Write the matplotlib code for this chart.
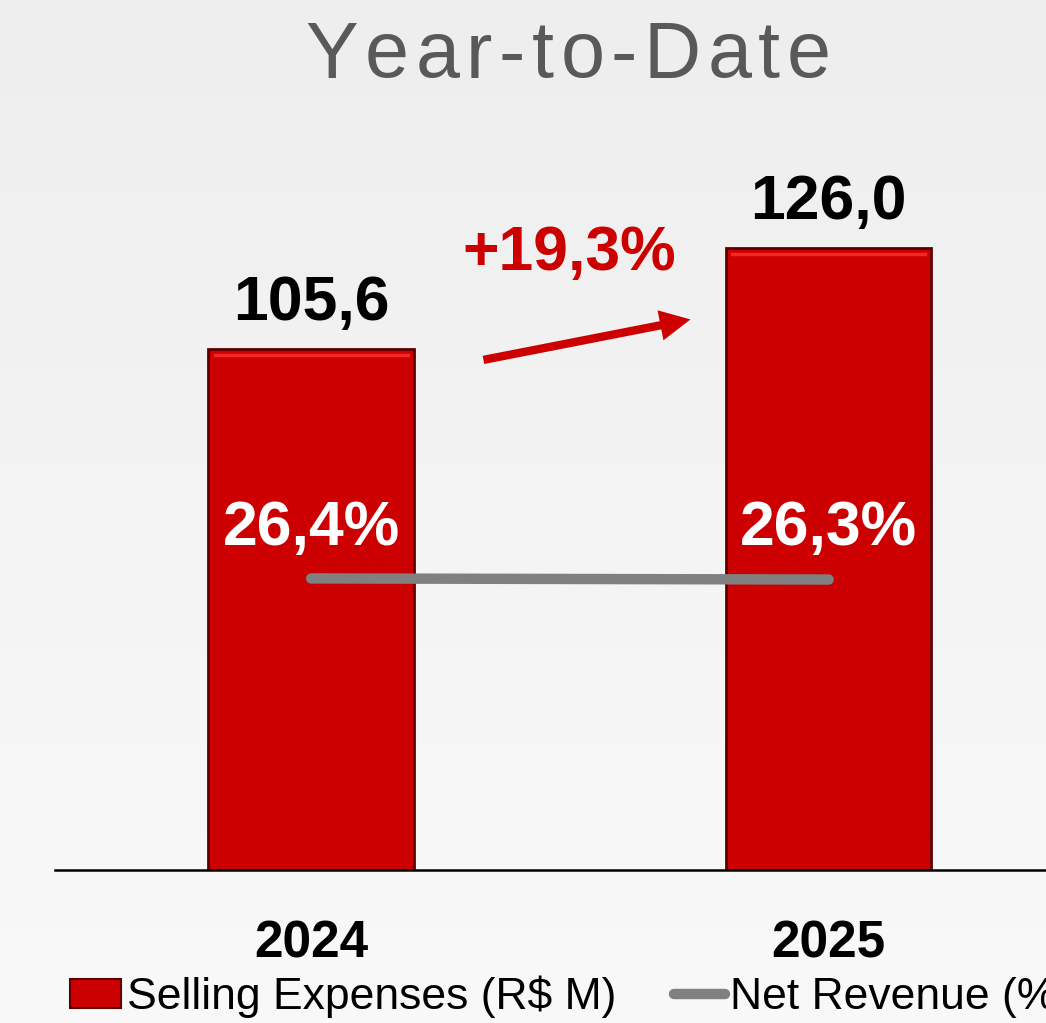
import matplotlib.pyplot as plt
import numpy as np
from matplotlib.colors import LinearSegmentedColormap
from matplotlib.lines import Line2D
from matplotlib.patches import Patch

# data
years = ["2024", "2025"]
selling_expenses = [105.6, 126.0]
net_revenue_pct = [26.4, 26.3]
expense_labels = ["105,6", "126,0"]
pct_labels = ["26,4%", "26,3%"]
growth_label = "+19,3%"

RED = "#CC0000"
GRAY = "#808080"
W, H = 1046, 1023

fig = plt.figure(figsize=(W / 100, H / 100), dpi=100)

# soft gradient background
bg = fig.add_axes([0, 0, 1, 1], zorder=-10)
grad = np.linspace(0, 1, 256).reshape(-1, 1)
bg.imshow(grad, aspect="auto", cmap=LinearSegmentedColormap.from_list("bg", ["#eeeeee", "#f9f9f9"]),
          extent=[0, 1, 0, 1], origin="upper")
bg.axis("off")

# main axes: baseline at y=870px, top at y=130px
ax_left = 55 / W
ax_bottom = 1 - 870 / H
ax_height = (870 - 130) / H
ax = fig.add_axes([ax_left, ax_bottom, 1 - ax_left, ax_height])
ax.patch.set_alpha(0)

x = np.arange(len(years))
bars = ax.bar(x, selling_expenses, width=0.397, color=RED, edgecolor="#5a0000", linewidth=2, zorder=2)
# light bevel along the top of each bar
for b in bars:
    ax.plot([b.get_x() + 0.012, b.get_x() + b.get_width() - 0.012],
            [b.get_height() - 1.2] * 2, color="#ff3030", linewidth=2.5, alpha=0.8, zorder=2.5)
ax.set_xlim(-0.495, 1.42)
ax.set_ylim(0, 150)
for s in ["top", "right", "left"]:
    ax.spines[s].set_visible(False)
ax.spines["bottom"].set_linewidth(1.8)
ax.set_yticks([])
ax.set_xticks([])

for xi, v, lab in zip(x, selling_expenses, expense_labels):
    ax.text(xi, v + 3.3, lab, ha="center", va="bottom", fontsize=45,
            fontweight="bold", family="Liberation Sans", color="black")

# net revenue line on secondary axis
ax2 = ax.twinx()
ax2.set_ylim(0, 67)
ax2.axis("off")
ax2.plot(x, net_revenue_pct, color=GRAY, linewidth=7.5, solid_capstyle="round", zorder=3)
for xi, lab in zip(x, pct_labels):
    ax.text(xi, 69.3, lab, ha="center", va="center", fontsize=45, fontweight="bold",
            family="Liberation Sans", color="white", zorder=4)

# growth arrow
ax.annotate("", xy=(0.733, 111.6), xytext=(0.333, 103.4),
            arrowprops=dict(arrowstyle="simple,head_length=1.1,head_width=1.1,tail_width=0.3",
                            mutation_scale=20, facecolor=RED, edgecolor="none",
                            shrinkA=0, shrinkB=0))
ax.text(0.499, 125.0, growth_label, ha="center", va="center", fontsize=45,
        fontweight="bold", family="Liberation Sans", color=RED)

# year labels
for xi, yr in zip(x, years):
    ax.text(xi, -15, yr, ha="center", va="center", fontsize=37, fontweight="bold",
            family="Liberation Sans", color="black")

# title with letter spacing
title = "Year-to-Date"
fig.canvas.draw()
renderer = fig.canvas.get_renderer()
pieces = []
for ch in title:
    t = fig.text(0, 1 - 57 / H, ch, fontsize=57, family="Liberation Sans", color="#595959",
                 va="center", ha="left")
    pieces.append(t)
widths = [p.get_window_extent(renderer).width for p in pieces]
spacing = 6.5
total = sum(widths) + spacing * (len(widths) - 1)
xpos = 568 - total / 2
for p, w in zip(pieces, widths):
    p.set_x(xpos / W)
    xpos += w + spacing

# legend
handles = [Patch(facecolor=RED, edgecolor="#5a0000", linewidth=1.5),
           Line2D([0], [0], color=GRAY, linewidth=7.5, solid_capstyle="round")]
fig.legend(handles, ["Selling Expenses (R$ M)", "Net Revenue (%)"], loc="center left",
           bbox_to_anchor=(48 / W, 1 - 997 / H), ncol=2, frameon=False,
           prop={"family": "Liberation Sans", "size": 32}, handlelength=1.15,
           handleheight=0.62, handletextpad=0.12, columnspacing=1.3, borderpad=0)

fig.savefig("out.png", dpi=100)
